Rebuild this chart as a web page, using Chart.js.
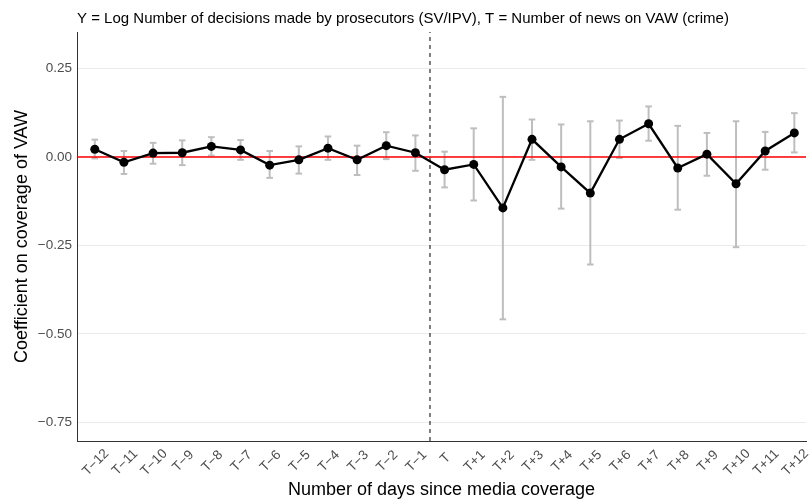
<!DOCTYPE html>
<html>
<head>
<meta charset="utf-8">
<script src="https://cdn.jsdelivr.net/npm/chart.js@4/dist/chart.umd.min.js"></script>
<style>
  html, body { margin: 0; padding: 0; background: #ffffff; }
  canvas { display: block; }
</style>
</head>
<body>
<canvas id="c" width="812" height="503"></canvas>
<script>
// Event-study estimates: days relative to media coverage of VAW
const dayLabels = [
  "T\u221212", "T\u221211", "T\u221210", "T\u22129", "T\u22128", "T\u22127",
  "T\u22126", "T\u22125", "T\u22124", "T\u22123", "T\u22122", "T\u22121",
  "T",
  "T+1", "T+2", "T+3", "T+4", "T+5", "T+6", "T+7", "T+8", "T+9", "T+10", "T+11", "T+12"
];
const dayOffsets = [-12, -11, -10, -9, -8, -7, -6, -5, -4, -3, -2, -1, 0,
  1, 2, 3, 4, 5, 6, 7, 8, 9, 10, 11, 12];

const coefficients = [
  0.022, -0.015, 0.011, 0.012, 0.030, 0.020, -0.023, -0.008, 0.025, -0.008, 0.032, 0.012,
  -0.036,
  -0.021, -0.144, 0.050, -0.028, -0.102, 0.050, 0.094, -0.031, 0.008, -0.076, 0.017, 0.068
];
const ciUpper = [
  0.049, 0.017, 0.040, 0.047, 0.056, 0.048, 0.017, 0.030, 0.058, 0.032, 0.070, 0.061,
  0.015,
  0.081, 0.170, 0.106, 0.092, 0.101, 0.103, 0.143, 0.088, 0.068, 0.101, 0.071, 0.124
];
const ciLower = [
  -0.004, -0.048, -0.019, -0.023, 0.004, -0.008, -0.059, -0.047, -0.008, -0.051, -0.006, -0.039,
  -0.086,
  -0.123, -0.459, -0.008, -0.146, -0.304, -0.003, 0.046, -0.149, -0.053, -0.255, -0.036, 0.013
];

const yTickValues = [0.25, 0, -0.25, -0.5, -0.75];
const coverageDay = -0.5;   // boundary between T-1 and T
const referenceLevel = 0;

const titleText = "Y = Log Number of decisions made by prosecutors (SV/IPV), T = Number of news on VAW (crime)";
const xTitle = "Number of days since media coverage";
const yTitle = "Coefficient on coverage of VAW";

// Axis extents
const X_MIN = -12.61, X_MAX = 12.40;
const Y_MIN = -0.803, Y_MAX = 0.3534;

const FONT = "'Liberation Sans', Arial, Helvetica, sans-serif";
const CI_GREY = "#bebebe";

const fmtTick = v => (v < 0 ? "\u2212" : "") + Math.abs(v).toFixed(2);

// Plot title and rotated day labels
const textPlugin = {
  id: "textPlugin",
  afterDraw(chart) {
    const { ctx, chartArea } = chart;
    const xs = chart.scales.x;
    ctx.save();
    ctx.fillStyle = "#000000";
    ctx.font = "15px " + FONT;
    ctx.textAlign = "left";
    ctx.textBaseline = "alphabetic";
    ctx.fillText(titleText, chartArea.left, 23);

    ctx.font = "13.5px " + FONT;
    ctx.fillStyle = "#4d4d4d";
    ctx.textAlign = "center";
    ctx.textBaseline = "middle";
    xs.ticks.forEach(t => {
      const idx = dayOffsets.indexOf(t.value);
      if (idx < 0) return;
      const label = dayLabels[idx];
      const px = xs.getPixelForValue(t.value) + 1;
      const w = ctx.measureText(label).width;
      const cy = chartArea.bottom + 16 + 0.18 * w;
      ctx.save();
      ctx.translate(px, cy);
      ctx.rotate(-Math.PI / 4);
      ctx.fillText(label, 0, 0);
      ctx.restore();
    });
    ctx.restore();
  }
};

new Chart(document.getElementById("c"), {
  type: "line",
  data: {
    datasets: [
      {
        label: "Coefficient",
        type: "line",
        data: dayOffsets.map((x, i) => ({ x, y: coefficients[i] })),
        borderColor: "#000000",
        borderWidth: 2.3,
        pointRadius: 4.5,
        pointBackgroundColor: "#000000",
        pointBorderWidth: 0,
        tension: 0,
        order: 0
      },
      {
        label: "Zero",
        type: "line",
        data: [{ x: X_MIN, y: referenceLevel }, { x: X_MAX, y: referenceLevel }],
        borderColor: "#ff0000",
        borderWidth: 1.4,
        pointRadius: 0,
        order: 1
      },
      {
        label: "Coverage",
        type: "line",
        data: [{ x: coverageDay, y: Y_MIN }, { x: coverageDay, y: Y_MAX }],
        borderColor: "#000000",
        borderWidth: 1,
        borderDash: [4, 4],
        pointRadius: 0,
        order: 1
      },
      {
        label: "CI upper cap",
        type: "line",
        showLine: false,
        data: dayOffsets.map((x, i) => ({ x, y: ciUpper[i] })),
        pointStyle: "line",
        pointRadius: 3.3,
        pointBorderColor: CI_GREY,
        pointBorderWidth: 2,
        order: 2
      },
      {
        label: "CI lower cap",
        type: "line",
        showLine: false,
        data: dayOffsets.map((x, i) => ({ x, y: ciLower[i] })),
        pointStyle: "line",
        pointRadius: 3.3,
        pointBorderColor: CI_GREY,
        pointBorderWidth: 2,
        order: 2
      },
      {
        label: "CI",
        type: "bar",
        data: dayOffsets.map((x, i) => ({ x, y: [ciLower[i], ciUpper[i]] })),
        backgroundColor: CI_GREY,
        barThickness: 2,
        borderWidth: 0,
        inflateAmount: 0,
        order: 3
      }
    ]
  },
  options: {
    responsive: false,
    animation: false,
    devicePixelRatio: 1,
    layout: { padding: { top: 32, left: 0, right: 0, bottom: 0 } },
    plugins: {
      legend: { display: false },
      tooltip: { enabled: false },
      title: { display: false }
    },
    scales: {
      x: {
        type: "linear",
        offset: false,
        min: X_MIN,
        max: X_MAX,
        afterBuildTicks: s => { s.ticks = dayOffsets.map(v => ({ value: v })); },
        ticks: { display: false },
        grid: { display: false, drawTicks: false },
        border: { display: true, color: "#333333", width: 1 },
        title: {
          display: true,
          text: xTitle,
          color: "#000000",
          font: { family: FONT, size: 18 },
          padding: { top: 0, bottom: 2 }
        },
        afterFit: s => { s.height = 62; }
      },
      y: {
        type: "linear",
        min: Y_MIN,
        max: Y_MAX,
        afterBuildTicks: s => { s.ticks = yTickValues.map(v => ({ value: v })); },
        ticks: {
          callback: v => fmtTick(v),
          color: "#4d4d4d",
          font: { family: FONT, size: 13.5 },
          padding: 5
        },
        grid: { color: "#ebebeb", lineWidth: 1, drawTicks: false },
        border: { display: true, color: "#333333", width: 1 },
        title: {
          display: true,
          text: yTitle,
          color: "#000000",
          font: { family: FONT, size: 18 },
          padding: { top: 11, bottom: 0 }
        },
        afterFit: s => { s.width = 77; }
      }
    }
  },
  plugins: [textPlugin]
});
</script>
</body>
</html>
